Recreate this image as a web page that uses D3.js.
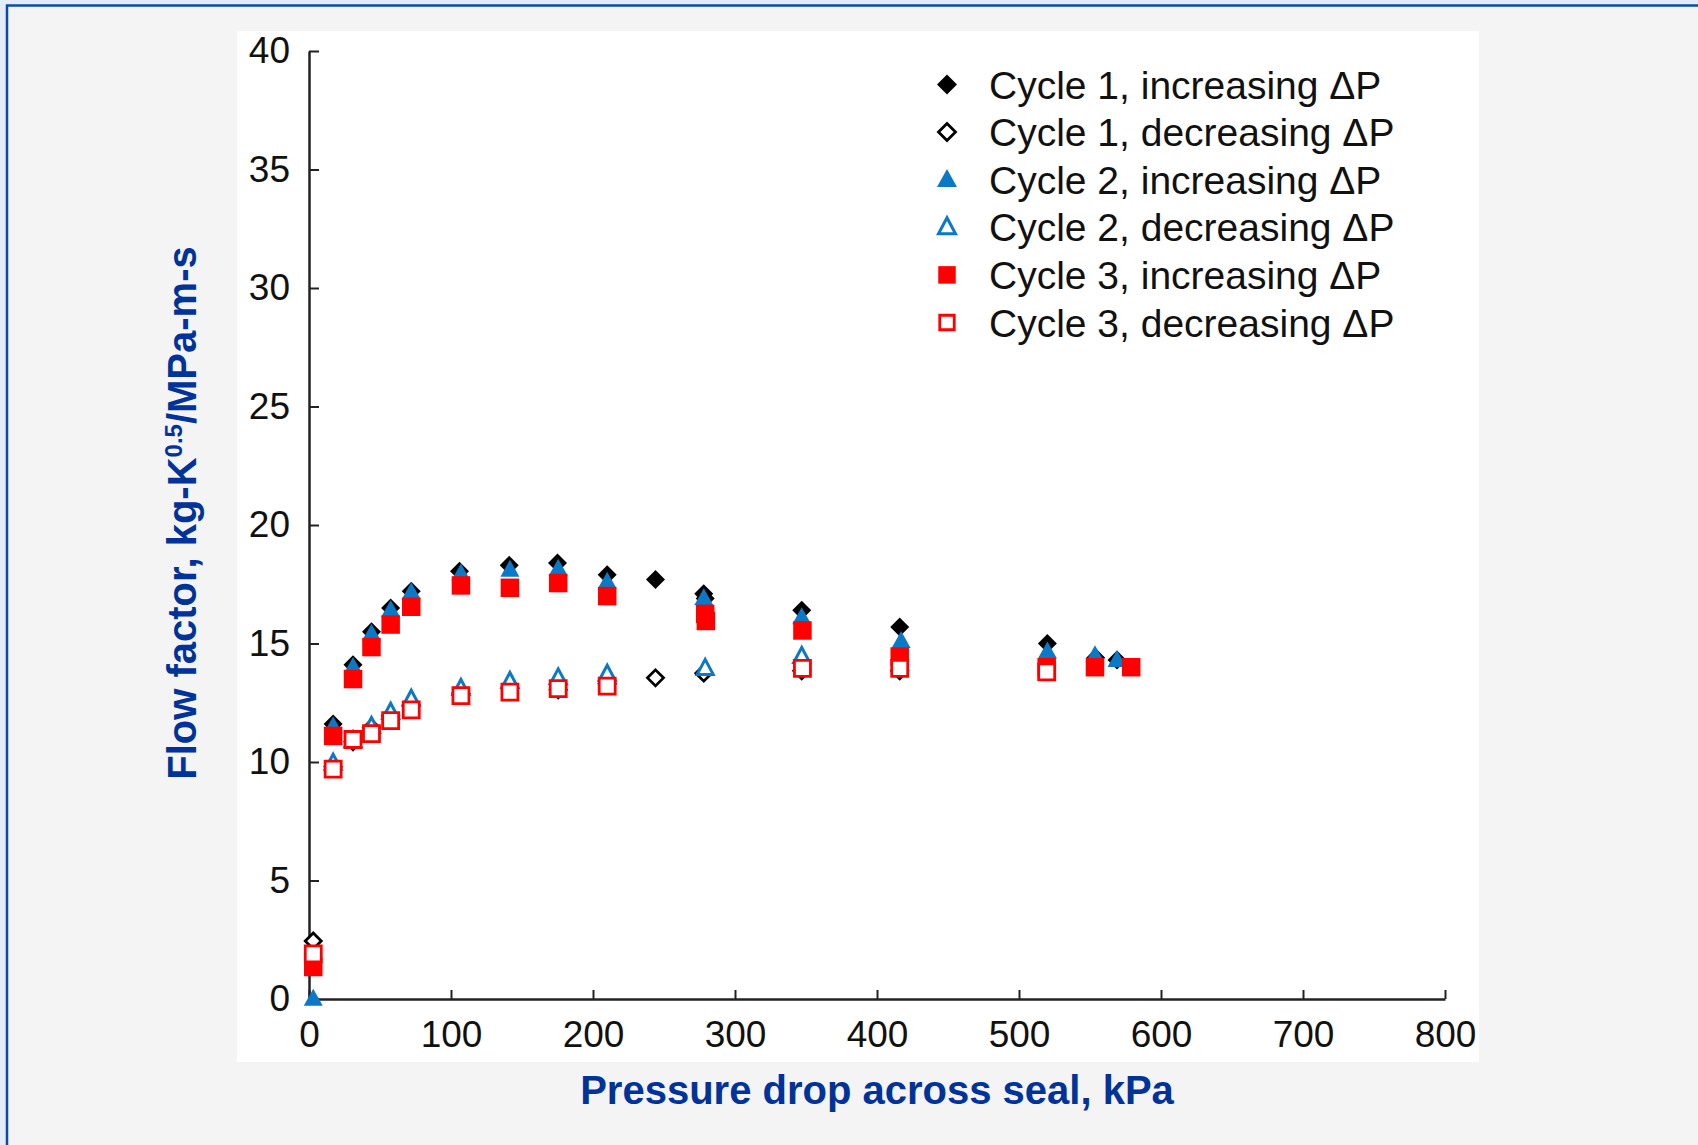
<!DOCTYPE html>
<html><head><meta charset="utf-8">
<script src="https://cdn.jsdelivr.net/npm/d3@7"></script>
<style>html,body{margin:0;padding:0;background:#e3ecf7;}svg{display:block}</style>
</head><body><script>
// ---- data ----
const xTicks = [0, 100, 200, 300, 400, 500, 600, 700, 800];
const yTicks = [0, 5, 10, 15, 20, 25, 30, 35, 40];
const seriesNames = ["Cycle 1, increasing \u0394P", "Cycle 1, decreasing \u0394P", "Cycle 2, increasing \u0394P",
                     "Cycle 2, decreasing \u0394P", "Cycle 3, increasing \u0394P", "Cycle 3, decreasing \u0394P"];
const cycle1Inc = [[17,11.6],[31,14.1],[44,15.5],[57.5,16.5],[72,17.2],[106,18.05],[141,18.3],[175,18.4],[210,17.9],[244,17.7],[278,17.1],[279,16.9],[347,16.4],[416,15.7],[520,15.0],[554,14.4],[569,14.3]];
const cycle1Dec = [[3,2.45],[17,9.8],[31,10.85],[44,11.45],[57.5,11.95],[72,12.4],[107,12.9],[141.5,13.1],[175.5,13.05],[210,13.3],[244,13.55],[278,13.75],[347,13.85],[416,13.85]];
const cycle2Inc = [[3,0],[17,11.5],[31,14.0],[44,15.4],[57.5,16.4],[72,17.15],[107,17.95],[141.5,18.1],[175.5,18.15],[210,17.6],[278,16.9],[347,16.1],[417,15.1],[520,14.65],[553.5,14.5],[569,14.3]];
const cycle2Dec = [[17,9.95],[31,10.9],[44,11.5],[57.5,12.1],[72,12.65],[107,13.1],[141.5,13.4],[175.5,13.55],[210,13.7],[279,13.95],[347,14.45]];
const cycle3Inc = [[3,1.35],[17,11.1],[31,13.5],[44,14.85],[57.5,15.8],[72,16.55],[107,17.45],[141.5,17.35],[175.5,17.55],[210,17.0],[279,16.25],[279.5,15.95],[347.5,15.55],[416,14.45],[519.5,14.0],[553.5,14.0],[579,14.0]];
const cycle3Dec = [[3,1.9],[17,9.7],[31,10.95],[44,11.2],[57.5,11.75],[72,12.2],[107,12.8],[141.5,12.95],[175.5,13.1],[210,13.2],[347.5,13.95],[416,13.95],[519.5,13.8]];

// ---- layout ----
const W = 1698, H = 1145;
const BLUE = "#0b78c8", RED = "#ff0000", TITLE = "#003399";
const FONT = "'Liberation Sans', Arial, Helvetica, sans-serif";

const svg = d3.select("body").append("svg").attr("width", W).attr("height", H);
svg.append("rect").attr("x", 7).attr("y", 5.5).attr("width", W + 20).attr("height", H + 20)
  .attr("fill", "#f4f4f4").attr("stroke", "#0b4aad").attr("stroke-width", 2.5);
svg.append("rect").attr("x", 237).attr("y", 31).attr("width", 1242).attr("height", 1031).attr("fill", "#fff");

const x = d3.scaleLinear().domain([0, 800]).range([309, 1445]);
const y = d3.scaleLinear().domain([0, 40]).range([999, 51]);

const gx = svg.append("g").attr("transform", `translate(0,${y(0)})`)
  .call(d3.axisBottom(x).tickValues(xTicks).tickSizeInner(-9).tickSizeOuter(0).tickPadding(22).tickFormat(d3.format("d")));
const gy = svg.append("g").attr("transform", `translate(${x(0)},0)`)
  .call(d3.axisLeft(y).tickValues(yTicks).tickSizeInner(-10).tickSizeOuter(0).tickPadding(19).tickFormat(d3.format("d")));
[gx, gy].forEach(g => {
  g.selectAll(".domain").attr("stroke", "#222").attr("stroke-width", 2.5);
  g.selectAll(".tick line").attr("stroke", "#222").attr("stroke-width", 2);
  g.selectAll(".tick text").attr("font-family", FONT).attr("font-size", 37).attr("fill", "#111");
});

// ---- markers ----
function diamondPath(r) { return `M0,${-r}L${r},0L0,${r}L${-r},0Z`; }
function trianglePath(w, h) { return `M0,${-h*0.6}L${w/2},${h*0.4}L${-w/2},${h*0.4}Z`; }
function squarePath(s) { return `M${-s/2},${-s/2}H${s/2}V${s/2}H${-s/2}Z`; }

const styles = [
  { data: cycle1Inc, d: diamondPath(9.5), fill: "#000", stroke: "none", sw: 0, ld: diamondPath(10) },
  { data: cycle1Dec, d: diamondPath(8), fill: "#fff", stroke: "#000", sw: 2.8, ld: diamondPath(8.5) },
  { data: cycle2Inc, d: trianglePath(19, 17), fill: BLUE, stroke: "none", sw: 0, ld: trianglePath(20, 18) },
  { data: cycle2Dec, d: trianglePath(16, 15), fill: "#fff", stroke: BLUE, sw: 3, ld: trianglePath(17, 16) },
  { data: cycle3Inc, d: squarePath(18.5), fill: RED, stroke: "none", sw: 0, ld: squarePath(17.5) },
  { data: cycle3Dec, d: squarePath(16), fill: "#fff", stroke: RED, sw: 2.8, ld: squarePath(14.5) }
];

styles.forEach(s => {
  svg.append("g").selectAll("path").data(s.data).join("path")
    .attr("d", s.d)
    .attr("transform", d => `translate(${x(d[0])},${y(d[1])})`)
    .attr("fill", s.fill).attr("stroke", s.stroke).attr("stroke-width", s.sw);
});

// ---- legend ----
const leg = svg.append("g");
styles.forEach((s, i) => {
  const cy = 84.5 + i * 47.6;
  leg.append("path").attr("d", s.ld).attr("transform", `translate(947,${cy})`)
    .attr("fill", s.fill).attr("stroke", s.stroke).attr("stroke-width", s.sw);
  leg.append("text").attr("x", 989).attr("y", cy).attr("dy", "0.36em")
    .attr("font-family", FONT).attr("font-size", 39).attr("fill", "#111").text(seriesNames[i]);
});

// ---- axis titles ----
svg.append("text").attr("x", 877).attr("y", 1104).attr("text-anchor", "middle")
  .attr("font-family", FONT).attr("font-weight", "bold").attr("font-size", 40).attr("fill", TITLE)
  .text("Pressure drop across seal, kPa");

const yt = svg.append("text").attr("transform", "translate(196,513) rotate(-90)").attr("text-anchor", "middle")
  .attr("font-family", FONT).attr("font-weight", "bold").attr("font-size", 40).attr("fill", TITLE);
yt.append("tspan").text("Flow factor, kg-K");
yt.append("tspan").attr("font-size", 24).attr("dy", -14).text("0.5");
yt.append("tspan").attr("dy", 14).text("/MPa-m-s");
</script></body></html>
